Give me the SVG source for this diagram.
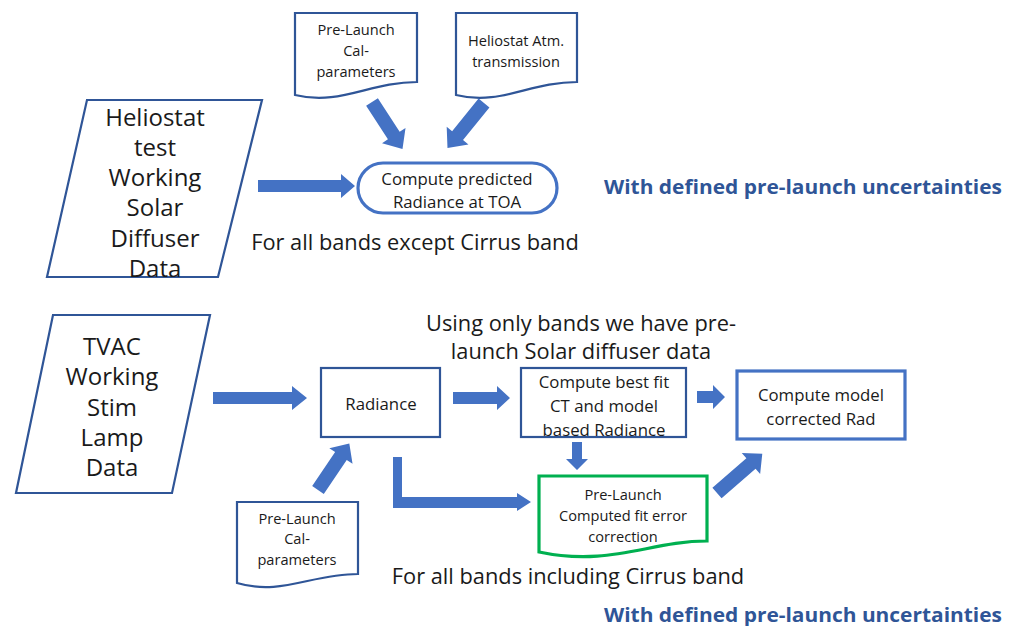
<svg xmlns="http://www.w3.org/2000/svg" width="1016" height="626" viewBox="0 0 1016 626">
<style>
text{font-family:"Open Sans","Noto Sans",sans-serif;fill:#1a1a1a;text-anchor:middle;dominant-baseline:central}
.dk{fill:#fff;stroke:#2f5597;stroke-width:2.2}
.lt{fill:#fff;stroke:#4472c4;stroke-width:3.2}
.gr{fill:#fff;stroke:#00b050;stroke-width:3.2}
.arr{fill:#4472c4}
.big{font-size:24px}
.mid{font-size:16.8px}
.sm{font-size:14.6px}
.note{font-size:21.8px}
.unc{font-size:19.5px;font-weight:bold;fill:#2f5597;text-anchor:start}
</style>
<rect width="1016" height="626" fill="#fff"/>

<g id="doc-cal-top">
<path class="dk" d="M295,13 H417 V82 C370,82 340,106 295,95 Z"/>
<text class="sm" x="356" y="29">Pre-Launch</text>
<text class="sm" x="356" y="50">Cal-</text>
<text class="sm" x="356" y="71">parameters</text>
</g>
<g id="doc-atm">
<path class="dk" d="M456,13 H577 V82 C530,82 500,106 456,95 Z"/>
<text class="sm" x="516" y="40">Heliostat Atm.</text>
<text class="sm" x="516" y="61">transmission</text>
</g>
<g id="heliostat-data">
<polygon class="dk" points="87,100 262,100 218,277 47,277"/>
<text class="big" x="155" y="116">Heliostat</text>
<text class="big" x="155" y="146">test</text>
<text class="big" x="155" y="176">Working</text>
<text class="big" x="155" y="206">Solar</text>
<text class="big" x="155" y="237">Diffuser</text>
<text class="big" x="155" y="267">Data</text>
</g>
<g id="compute-predicted">
<rect class="lt" x="358" y="163" width="199" height="50" rx="25"/>
<text class="mid" x="457" y="178">Compute predicted</text>
<text class="mid" x="457" y="201">Radiance at TOA</text>
</g>
<text class="note" x="415" y="241">For all bands except Cirrus band</text>
<text class="unc" x="604" y="186" textLength="398" lengthAdjust="spacingAndGlyphs">With defined pre-launch uncertainties</text>

<text class="note" x="581" y="322">Using only bands we have pre-</text>
<text class="note" x="581" y="350">launch Solar diffuser data</text>

<g id="tvac-data">
<polygon class="dk" points="53,315 210,315 172,493 16,493"/>
<text class="big" x="112" y="345">TVAC</text>
<text class="big" x="112" y="375">Working</text>
<text class="big" x="112" y="406">Stim</text>
<text class="big" x="112" y="436">Lamp</text>
<text class="big" x="112" y="466">Data</text>
</g>
<g id="radiance">
<rect class="dk" x="321" y="368" width="119" height="69"/>
<text class="mid" x="381" y="403">Radiance</text>
</g>
<g id="best-fit">
<rect class="dk" x="521" y="368" width="165" height="69"/>
<text class="mid" x="604" y="381">Compute best fit</text>
<text class="mid" x="604" y="405">CT and model</text>
<text class="mid" x="604" y="429">based Radiance</text>
</g>
<g id="model-corrected">
<rect class="lt" x="737" y="371" width="168" height="68"/>
<text class="mid" x="821" y="394">Compute model</text>
<text class="mid" x="821" y="418">corrected Rad</text>
</g>
<g id="fit-error">
<path class="gr" d="M539,476 H707 V541 C650,541 610,567 539,552 Z"/>
<text class="sm" x="623" y="494">Pre-Launch</text>
<text class="sm" x="623" y="515">Computed fit error</text>
<text class="sm" x="623" y="536">correction</text>
</g>
<g id="doc-cal-bottom">
<path class="dk" d="M237,502 H358 V574 C311,574 281,596 237,583 Z"/>
<text class="sm" x="297" y="518">Pre-Launch</text>
<text class="sm" x="297" y="538">Cal-</text>
<text class="sm" x="297" y="559">parameters</text>
</g>
<text class="note" x="568" y="575">For all bands including Cirrus band</text>
<text class="unc" x="604" y="614" textLength="398" lengthAdjust="spacingAndGlyphs">With defined pre-launch uncertainties</text>

<g id="connectors">
<polygon class="arr" points="0,-7 40,-7 40,-14 56,0 40,14 40,7 0,7" transform="translate(372,102) rotate(57)"/>
<polygon class="arr" points="0,-7 42,-7 42,-14 58,0 42,14 42,7 0,7" transform="translate(484,103) rotate(129)"/>
<polygon class="arr" points="258,180 341,180 341,174 355,186 341,198 341,192 258,192"/>
<polygon class="arr" points="213,392 292,392 292,386 307,398 292,410 292,404 213,404"/>
<polygon class="arr" points="453,392 497,392 497,386 510,398 497,410 497,404 453,404"/>
<polygon class="arr" points="697,391 713,391 713,385 725,397 713,409 713,403 697,403"/>
<polygon class="arr" points="572,442 582,442 582,459 588,459 577,470 566,459 572,459"/>
<polygon class="arr" points="0,-7 41,-7 41,-14 56,0 41,14 41,7 0,7" transform="translate(318,490) rotate(-56)"/>
<polygon class="arr" points="0,-7 45,-7 45,-14 60,0 45,14 45,7 0,7" transform="translate(717,493) rotate(-41)"/>
<polygon class="arr" points="393,457 402,457 402,497 517,497 517,493 531,502 517,511 517,508 393,508"/>
</g>
</svg>
